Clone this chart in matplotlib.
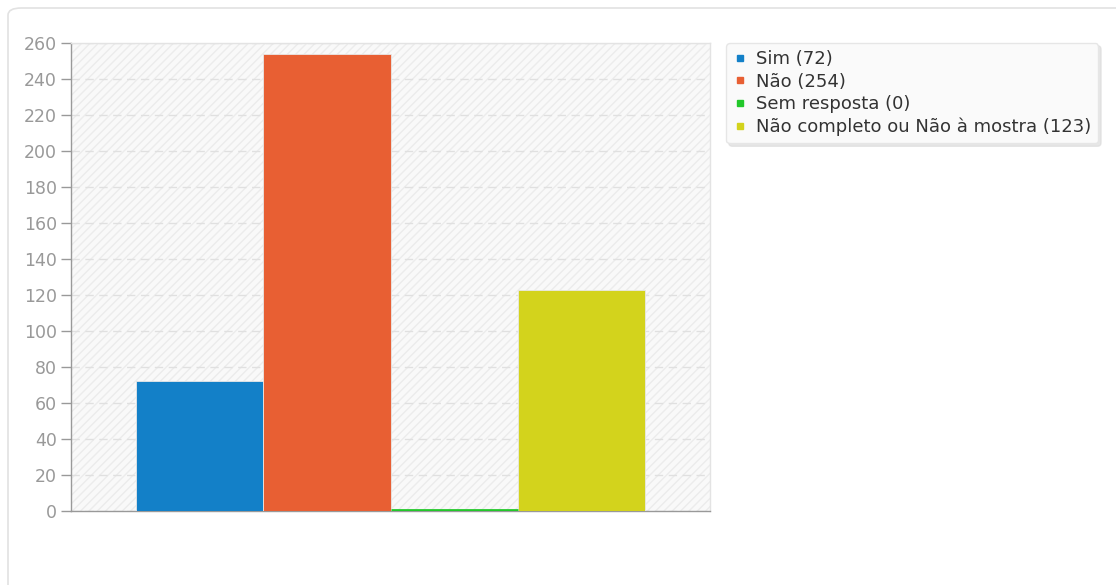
import matplotlib
matplotlib.use("Agg")
import matplotlib.pyplot as plt
from matplotlib.patches import FancyBboxPatch, Rectangle

plt.rcParams["font.family"] = ["DejaVu Sans"]

categories = ["Sim", "Não", "Sem resposta", "Não completo ou Não à mostra"]
values = [72, 254, 0, 123]
colors = ["#1380c8", "#e85f33", "#22c82a", "#d3d31c"]
yticks = list(range(0, 261, 20))

W, H = 1116, 585
fig = plt.figure(figsize=(W / 100, H / 100), dpi=100)
fig.patch.set_facecolor("white")

# outer card frame
frame = FancyBboxPatch((8 / W, -0.1), 1.2, 1 - 8 / H + 0.1,
                       boxstyle="round,pad=0,rounding_size=0.012",
                       transform=fig.transFigure, facecolor="white",
                       edgecolor="#e2e2e2", linewidth=1.2, zorder=-5)
fig.patches.append(frame)

ax = fig.add_axes([71 / W, 1 - 511 / H, (710 - 71) / W, (511 - 43) / H])
ax.set_zorder(2)
ax.set_facecolor("#f9f9f9")
bg = Rectangle((0, 0), 1, 1, transform=ax.transAxes, facecolor="#f9f9f9",
               edgecolor="#ececec", hatch="////", linewidth=0, zorder=0)
ax.add_patch(bg)

x = list(range(len(values)))
bars = ax.bar(x, values, width=1.0, color=colors, edgecolor="#e8e8e8",
              linewidth=0.6, zorder=3)
# zero-height bar shown as a thin line at the baseline
ax.plot([x[2] - 0.5, x[2] + 0.5], [0.4, 0.4], color=colors[2], lw=2,
        zorder=4, solid_capstyle="butt")

ax.set_xlim(-1.01, 4.01)
ax.set_ylim(0, 260)
ax.set_yticks(yticks)
ax.set_xticks([])
ax.yaxis.grid(True, color="#e0e0e0", linestyle=(0, (6, 4)), linewidth=1)
ax.set_axisbelow(True)
for s in ["top", "right"]:
    ax.spines[s].set_color("#e3e3e3")
    ax.spines[s].set_linewidth(1)
ax.spines["left"].set_color("#999999")
ax.spines["bottom"].set_color("#999999")
ax.spines["left"].set_linewidth(1)
ax.spines["bottom"].set_linewidth(1)
ax.tick_params(axis="y", colors="#999999", labelcolor="#999999",
               labelsize=12.5, length=7, width=1, direction="out", pad=3)

labels = [f"{c} ({v})" for c, v in zip(categories, values)]
handles = [plt.Line2D([], [], marker="s", linestyle="none", markersize=5,
                      markerfacecolor=c, markeredgecolor=c) for c in colors]
leg = fig.legend(handles, labels, loc="upper left",
                 bbox_to_anchor=(726 / W, 1 - 43 / H), borderaxespad=0,
                 frameon=True, fontsize=13, handletextpad=0.45,
                 handlelength=0.8, labelspacing=0.25, borderpad=0.4,
                 fancybox=True, shadow={"color": "#d8d8d8", "alpha": 0.6})
leg.set_zorder(3)
leg.get_frame().set_facecolor("#fafafa")
leg.get_frame().set_edgecolor("#e6e6e6")
leg.get_frame().set_linewidth(1)
for t in leg.get_texts():
    t.set_color("#333333")

fig.savefig("out.png", dpi=100)
